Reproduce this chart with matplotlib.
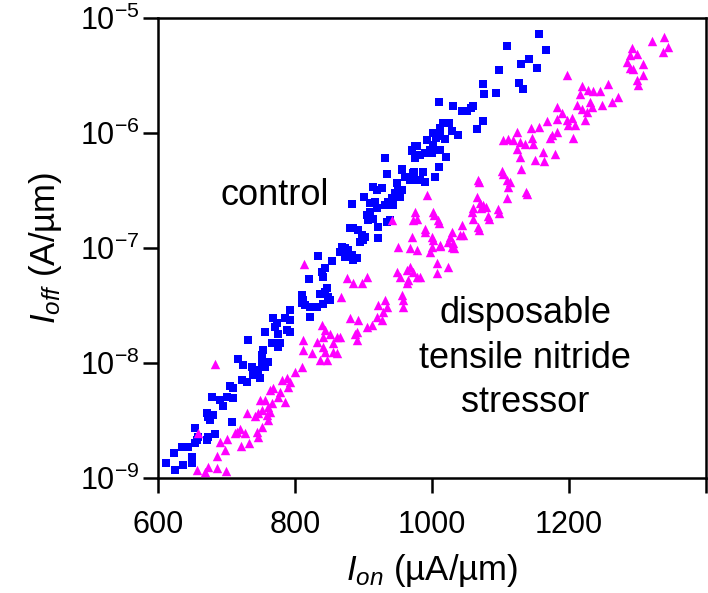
import matplotlib
matplotlib.use("Agg")
import matplotlib.pyplot as plt

plt.rcParams["font.family"] = ["Liberation Sans", "DejaVu Sans"]
plt.rcParams["mathtext.fontset"] = "custom"
plt.rcParams["mathtext.rm"] = "Liberation Sans"
plt.rcParams["mathtext.it"] = "Liberation Sans:italic"

# control devices: Ion (uA/um), Ioff (A/um)
ctrl_ion = [
    612, 625, 636, 650, 650, 623, 635, 644, 654, 657,
    658, 654, 672, 673, 683, 673, 676, 672, 680, 708,
    679, 690, 695, 710, 701, 705, 710, 723, 730, 717,
    724, 737, 742, 739, 746, 749, 752, 752, 753, 761,
    756, 731, 756, 766, 775, 778, 768, 771, 775, 774,
    785, 793, 788, 793, 793, 810, 822, 810, 812, 815,
    822, 832, 820, 841, 847, 844, 836, 851, 841, 848,
    834, 854, 844, 839, 869, 873, 866, 877, 883, 873,
    891, 885, 880, 885, 892, 898, 899, 895, 902, 921,
    910, 917, 920, 910, 905, 914, 907, 921, 934, 939,
    901, 883, 914, 920, 927, 949, 950, 946, 953, 942,
    936, 931, 943, 956, 931, 971, 978, 975, 934, 956,
    961, 972, 968, 978, 974, 987, 965, 983, 1004, 990,
    1010, 1020, 993, 978, 971, 975, 983, 990, 997, 1001,
    1000, 1012, 1012, 1001, 1006, 1019, 1012, 1016, 1025, 1029,
    1038, 1074, 1066, 1010, 1031, 1044, 1051, 1057, 1060, 1076,
    1093, 1074, 1127, 1133, 1098, 1130, 1153, 1142, 1110, 1166,
    1156, 956,
]
ctrl_ioff = [
    1.35e-9, 1.17e-9, 1.30e-9, 1.52e-9, 1.35e-9, 1.65e-9, 1.86e-9, 1.86e-9, 2.0e-9, 2.14e-9,
    2.28e-9, 2.72e-9, 2.14e-9, 2.28e-9, 2.42e-9, 3.4e-9, 3.19e-9, 3.68e-9, 3.53e-9, 3.05e-9,
    5.07e-9, 4.77e-9, 4.22e-9, 4.97e-9, 5.07e-9, 6.3e-9, 6.0e-9, 7.1e-9, 6.8e-9, 1.08e-8,
    9.6e-9, 9.2e-9, 8.4e-9, 7.86e-9, 8.7e-9, 7.4e-9, 1.02e-8, 1.17e-8, 1.30e-8, 1.02e-8,
    9.2e-9, 1.58e-8, 1.86e-8, 1.48e-8, 1.38e-8, 1.48e-8, 2.47e-8, 2.05e-8, 1.8e-8, 2.23e-8,
    2.47e-8, 2.37e-8, 1.94e-8, 1.86e-8, 2.89e-8, 3.3e-8, 2.5e-8, 3.9e-8, 3.53e-8, 3.19e-8,
    3.05e-8, 3.05e-8, 5.4e-8, 5.6e-8, 4.5e-8, 4.1e-8, 4.0e-8, 3.53e-8, 3.25e-8, 3.75e-8,
    8.5e-8, 7.7e-8, 6.7e-8, 6.2e-8, 1.02e-7, 1.0e-7, 9.2e-8, 9.6e-8, 8.7e-8, 8.4e-8,
    8.2e-8, 7.9e-8, 1.48e-7, 1.48e-7, 1.43e-7, 1.30e-7, 1.17e-7, 1.12e-7, 1.25e-7, 1.22e-7,
    2.47e-7, 2.5e-7, 2.23e-7, 2.05e-7, 1.94e-7, 1.8e-7, 1.75e-7, 1.52e-7, 1.68e-7, 1.75e-7,
    2.78e-7, 2.42e-7, 3.4e-7, 3.19e-7, 3.3e-7, 3.68e-7, 3.19e-7, 3.0e-7, 2.78e-7, 2.72e-7,
    2.5e-7, 2.37e-7, 2.37e-7, 3.19e-7, 6.0e-7, 7.1e-7, 6.4e-7, 7.7e-7, 4.4e-7, 4.77e-7,
    4.15e-7, 4.5e-7, 3.9e-7, 3.9e-7, 4.6e-7, 4.6e-7, 4.15e-7, 3.9e-7, 4.15e-7, 3.75e-7,
    5.1e-7, 6.2e-7, 8.7e-7, 7.7e-7, 6.9e-7, 6.0e-7, 6.4e-7, 6.7e-7, 7.1e-7, 7.9e-7,
    6.7e-7, 7.1e-7, 1.1e-6, 1.0e-6, 9.0e-7, 8.8e-7, 9.4e-7, 1.22e-6, 1.22e-6, 1.04e-6,
    9.6e-7, 1.27e-6, 1.08e-6, 1.86e-6, 1.72e-6, 1.55e-6, 1.55e-6, 1.65e-6, 1.72e-6, 2.18e-6,
    2.23e-6, 2.67e-6, 2.7e-6, 2.42e-6, 3.53e-6, 4.0e-6, 3.68e-6, 4.4e-6, 5.7e-6, 5.27e-6,
    7.3e-6, 4.9e-7,
]

# disposable tensile nitride stressor devices
dtn_ion = [
    683, 658, 657, 673, 686, 669, 699, 686, 698, 690,
    701, 715, 720, 712, 727, 721, 733, 746, 745, 752,
    730, 742, 746, 752, 749, 756, 761, 763, 761, 759,
    766, 763, 768, 778, 775, 785, 781, 788, 793, 790,
    800, 810, 812, 812, 813, 839, 844, 841, 851, 861,
    866, 832, 825, 841, 844, 856, 856, 861, 836, 847,
    880, 888, 891, 892, 905, 912, 891, 876, 885, 898,
    905, 867, 921, 931, 934, 928, 927, 920, 956, 958,
    958, 950, 968, 978, 997, 971, 949, 953, 964, 968,
    972, 965, 978, 983, 964, 942, 975, 978, 972, 1001,
    1009, 990, 1000, 1012, 1000, 1007, 1023, 1007, 993, 1067,
    1102, 1110, 1111, 1110, 1066, 1070, 1075, 1060, 1058, 1060,
    1067, 1082, 1096, 1044, 1041, 1045, 1029, 1026, 1023, 1029,
    1031, 1069, 1104, 1114, 1139, 1072, 1079, 1098, 1069, 1083,
    1003, 1010, 990, 1001, 1012, 1032,
    1321, 1339, 1345, 1337, 1292, 1289, 1285, 1299, 1308, 1289,
    1294, 1299, 1301, 1308, 1197, 1257, 1272, 1263, 1219, 1216,
    1228, 1235, 1245, 1231, 1234, 1248, 1226, 1212, 1219, 1183,
    1190, 1197, 1204, 1209, 1199, 1223, 1183, 1168, 1206, 1183,
    1175, 1172, 1156, 1145, 1104, 1111, 1124, 1118, 1128, 1136,
    1146, 1148, 1124, 1128, 1162, 1180, 1150, 1164, 1130, 1137,
]
dtn_ioff = [
    9.8e-9, 2.47e-9, 1.17e-9, 1.25e-9, 1.22e-9, 1.13e-9, 1.15e-9, 1.55e-9, 1.75e-9, 2.05e-9,
    2.18e-9, 2.5e-9, 2.67e-9, 2.47e-9, 2.47e-9, 1.9e-9, 2.0e-9, 2.28e-9, 2.5e-9, 2.78e-9,
    3.68e-9, 3.45e-9, 3.68e-9, 3.9e-9, 4.77e-9, 4.77e-9, 4.15e-9, 3.75e-9, 3.19e-9, 3.53e-9,
    4.5e-9, 5.82e-9, 6.0e-9, 5.6e-9, 5.07e-9, 4.6e-9, 7.1e-9, 7.4e-9, 6.8e-9, 6.2e-9,
    8.4e-9, 9.2e-9, 1.30e-8, 1.58e-8, 7.3e-8, 2.14e-8, 1.94e-8, 1.68e-8, 1.8e-8, 1.68e-8,
    1.68e-8, 1.52e-8, 1.22e-8, 1.38e-8, 1.25e-8, 1.48e-8, 1.25e-8, 1.22e-8, 1.06e-8, 1.06e-8,
    2.47e-8, 1.8e-8, 1.86e-8, 2.37e-8, 2.05e-8, 2.14e-8, 1.58e-8, 5.5e-8, 5.0e-8, 5.0e-8,
    5.6e-8, 3.75e-8, 3.19e-8, 3.53e-8, 3.05e-8, 2.78e-8, 2.37e-8, 2.5e-8, 3.9e-8, 3.53e-8,
    3.05e-8, 1.02e-7, 1.0e-7, 9.6e-8, 9.2e-8, 1.25e-7, 6.2e-8, 5.6e-8, 6.4e-8, 6.8e-8,
    6.2e-8, 5.27e-8, 5.6e-8, 5.6e-8, 5.0e-8, 1.75e-7, 2.05e-7, 1.8e-7, 1.75e-7, 2.05e-7,
    1.75e-7, 1.45e-7, 1.25e-7, 1.06e-7, 1.02e-7, 7.4e-8, 6.8e-8, 6.0e-8, 2.89e-7, 3.9e-7,
    4.7e-7, 3.9e-7, 3.4e-7, 2.72e-7, 2.78e-7, 2.47e-7, 2.37e-7, 2.23e-7, 2.05e-7, 1.8e-7,
    1.52e-7, 1.9e-7, 2.18e-7, 1.58e-7, 1.30e-7, 1.30e-7, 1.38e-7, 1.25e-7, 1.12e-7, 1.02e-7,
    1.1e-7, 3.75e-7, 4.4e-7, 3.75e-7, 2.95e-7, 2.23e-7, 2.28e-7, 2.0e-7, 1.43e-7, 1.8e-7,
    1.94e-7, 1.65e-7, 1.38e-7, 1.17e-7, 1.04e-7, 1.0e-7,
    6.3e-6, 6.8e-6, 5.6e-6, 5.07e-6, 5.5e-6, 4.77e-6, 4.15e-6, 4.9e-6, 4.0e-6, 3.68e-6,
    3.6e-6, 2.89e-6, 2.61e-6, 3.19e-6, 3.19e-6, 2.67e-6, 2.05e-6, 1.86e-6, 2.55e-6, 2.18e-6,
    2.37e-6, 2.32e-6, 2.32e-6, 1.86e-6, 1.68e-6, 1.75e-6, 1.52e-6, 1.75e-6, 1.6e-6, 1.68e-6,
    1.48e-6, 1.30e-6, 1.35e-6, 1.17e-6, 1.17e-6, 1.30e-6, 1.33e-6, 1.27e-6, 9.0e-7, 1.02e-6,
    9.6e-7, 9.0e-7, 1.12e-6, 1.1e-6, 8.7e-7, 8.8e-7, 1.02e-6, 8.7e-7, 8.4e-7, 8.0e-7,
    9.0e-7, 8.0e-7, 7.3e-7, 6.2e-7, 6.8e-7, 6.6e-7, 5.8e-7, 5.7e-7, 4.9e-7, 3.05e-7,
]

x_ticks = [600, 800, 1000, 1200, 1400]
x_ticklabels = ["600", "800", "1000", "1200", ""]
y_ticks = [1e-9, 1e-8, 1e-7, 1e-6, 1e-5]
y_ticklabels = [r"10$^{-9}$", r"10$^{-8}$", r"10$^{-7}$", r"10$^{-6}$", r"10$^{-5}$"]

fig = plt.figure(figsize=(7.08, 5.93), dpi=100)
ax = fig.add_axes([0.2232, 0.194, 0.774, 0.7757])

ax.scatter(ctrl_ion, ctrl_ioff, marker="s", s=34, color="#0000ff", linewidths=0, zorder=3)
ax.scatter(dtn_ion, dtn_ioff, marker="^", s=46, color="#ff00ff", linewidths=0, zorder=4)

ax.set_yscale("log")
ax.set_xlim(600, 1400)
ax.set_ylim(1e-9, 1e-5)
ax.set_xticks(x_ticks)
ax.set_xticklabels(x_ticklabels)
ax.set_yticks(y_ticks)
ax.set_yticklabels(y_ticklabels)
ax.minorticks_off()
ax.tick_params(axis="both", direction="out", length=11, width=1.8, labelsize=22)
ax.tick_params(axis="x", pad=12)
ax.tick_params(axis="y", pad=2)
for sp in ax.spines.values():
    sp.set_linewidth(1.8)

ax.set_xlabel(r"$I_{on}$ (µA/µm)", fontsize=25, labelpad=9)
ax.set_ylabel(r"$I_{off}$ (A/µm)", fontsize=25, labelpad=12)

ax.text(0.2135, 0.615, "control", transform=ax.transAxes, fontsize=26,
        ha="center", va="center")
ax.text(0.67, 0.26, "disposable\ntensile nitride\nstressor", transform=ax.transAxes,
        fontsize=26, ha="center", va="center", linespacing=1.35)

fig.savefig("out.png", dpi=100)
